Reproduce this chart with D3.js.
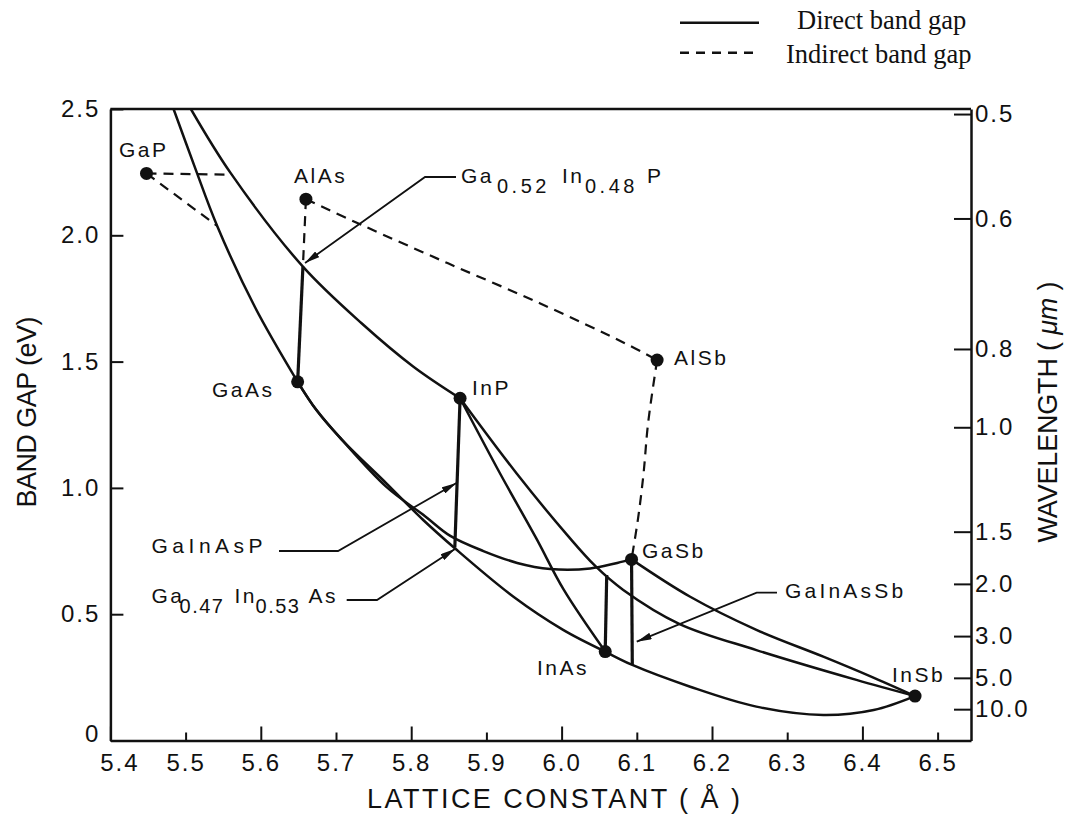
<!DOCTYPE html>
<html>
<head>
<meta charset="utf-8">
<script src="https://cdn.jsdelivr.net/npm/d3@7"></script>
<style>
  body { margin: 0; background: #fff; }
  svg { display: block; }
  .axis text { font-family: "Liberation Sans", Arial, sans-serif; font-size: 24px; letter-spacing: 2px; fill: #111; }
  .axis path.domain { stroke: #111; stroke-width: 2.5; }
  .axis .tick line { stroke: #111; stroke-width: 2; }
  .title { font-family: "Liberation Sans", Arial, sans-serif; font-size: 27px; fill: #111; }
  .label { font-family: "Liberation Sans", Arial, sans-serif; font-size: 21px; fill: #111; }
  .legend { font-family: "Liberation Serif", "Times New Roman", serif; font-size: 26.5px; fill: #111; }
  .curve { fill: none; stroke: #111; stroke-width: 2.5; }
  .quaternary { fill: none; stroke: #111; stroke-width: 3.2; }
  .indirect { fill: none; stroke: #111; stroke-width: 2.2; stroke-dasharray: 10,7; }
  .leader { fill: none; stroke: #111; stroke-width: 1.8; }
</style>
</head>
<body>
<svg id="chart" width="1071" height="814"></svg>
<script>
// tick labels
var latticeTicks = [5.4, 5.5, 5.6, 5.7, 5.8, 5.9, 6.0, 6.1, 6.2, 6.3, 6.4, 6.5];
var gapTicks = [0, 0.5, 1.0, 1.5, 2.0, 2.5];
var wavelengthTicks = [0.5, 0.6, 0.8, 1.0, 1.5, 2.0, 3.0, 5.0, 10.0];

// binary compounds: [name, lattice constant (A), band gap (eV)]
var compounds = [
  ["GaP", 5.448, 2.245], ["AlAs", 5.660, 2.143], ["AlSb", 6.127, 1.506],
  ["GaAs", 5.649, 1.420], ["InP", 5.865, 1.355], ["InAs", 6.058, 0.352],
  ["GaSb", 6.093, 0.717], ["InSb", 6.470, 0.176]
];

// direct gap ternary curves, [a, Eg]
var gaAsP = [[5.484, 2.50], [5.512, 2.272], [5.542, 2.037], [5.592, 1.717], [5.649, 1.420]];
var gaInP = [[5.507, 2.50], [5.560, 2.246], [5.656, 1.876], [5.734, 1.652], [5.803, 1.480], [5.865, 1.355]];
var inGaAs = [[5.649, 1.420], [5.674, 1.308], [5.708, 1.190], [5.767, 1.018], [5.816, 0.873],
  [5.858, 0.761], [5.936, 0.569], [6.002, 0.438], [6.058, 0.352]];
var gaAsSb = [[5.649, 1.420], [5.674, 1.308], [5.708, 1.190], [5.767, 1.004], [5.818, 0.889],
  [5.852, 0.810], [5.896, 0.750], [5.941, 0.703], [5.985, 0.679], [6.038, 0.681], [6.074, 0.703], [6.093, 0.717]];
var inAsP = [[5.865, 1.355], [5.918, 1.058], [5.966, 0.802], [6.003, 0.596], [6.058, 0.352]];
var inPSb = [[5.865, 1.355], [5.940, 1.058], [6.007, 0.815], [6.045, 0.690], [6.082, 0.596],
  [6.157, 0.461], [6.259, 0.358], [6.392, 0.240], [6.470, 0.176]];
var gaInSb = [[6.093, 0.717], [6.171, 0.569], [6.259, 0.438], [6.348, 0.332], [6.410, 0.255], [6.470, 0.176]];
var inAsSb = [[6.058, 0.352], [6.094, 0.299], [6.171, 0.213], [6.259, 0.134], [6.348, 0.101],
  [6.415, 0.121], [6.470, 0.176]];

// lattice matched lines (direct)
var alGaAsDirect = [[5.656, 1.876], [5.649, 1.420]];
var gaInAsP = [[5.865, 1.355], [5.858, 0.764]];
var gaInAsSbLeft = [[6.060, 0.655], [6.058, 0.352]];
var gaInAsSbRight = [[6.093, 0.717], [6.094, 0.299]];

// indirect gap lines
var gaPtoGaInP = [[5.448, 2.245], [5.560, 2.240]];
var gaPtoGaAsP = [[5.448, 2.245], [5.542, 2.037]];
var alGaAsIndirect = [[5.660, 2.143], [5.656, 1.876]];
var alAsSb = [[5.660, 2.143], [5.734, 2.041], [5.849, 1.889], [5.971, 1.731], [6.084, 1.573], [6.127, 1.506]];
var alGaSb = [[6.127, 1.506], [6.115, 1.256], [6.109, 1.058], [6.102, 0.886], [6.093, 0.717]];

// compound label anchors [name, a, Eg, letter spacing]
var nameLabels = [
  ["GaP", 5.4114, 2.310, 2.5], ["AlAs", 5.6441, 2.207, 2.5], ["AlSb", 6.1495, 1.4865, 2.5],
  ["GaAs", 5.5351, 1.360, 2.5], ["InP", 5.8809, 1.368, 2.5], ["InAs", 5.9673, 0.259, 2.5],
  ["GaSb", 6.1069, 0.7225, 2.5], ["InSb", 6.4394, 0.2316, 2.5],
  ["GaInAsSb", 6.2971, 0.5641, 3.2], ["GaInAsP", 5.4547, 0.7423, 4.5]
];

// pointer lines for the alloy labels
var leaders = [
  [[5.8596, 2.2308], [5.8184, 2.2308], [5.6588, 1.8903]],
  [[5.6242, 0.7502], [5.7027, 0.7502], [5.8602, 1.0194]],
  [[5.7142, 0.5562], [5.7545, 0.5562], [5.8582, 0.7581]],
  [[6.2864, 0.5851], [6.2594, 0.5851], [6.0999, 0.3911]]
];

var svg = d3.select("#chart");

var x = d3.scaleLinear().domain([5.4, 6.5444]).range([110.4, 971]);
var y = d3.scaleLinear().domain([0, 2.5]).range([740.5, 109]);

var line = d3.line()
  .x(function(d) { return x(d[0]); })
  .y(function(d) { return y(d[1]); })
  .curve(d3.curveCatmullRom.alpha(0.5));

var straight = d3.line()
  .x(function(d) { return x(d[0]); })
  .y(function(d) { return y(d[1]); });

var defs = svg.append("defs");
defs.append("clipPath").attr("id", "plot")
  .append("rect")
  .attr("x", x(5.4)).attr("y", y(2.5))
  .attr("width", x.range()[1] - x(5.4))
  .attr("height", y(0) - y(2.5));

defs.append("marker")
  .attr("id", "arrow")
  .attr("viewBox", "0 0 15 7")
  .attr("refX", 15).attr("refY", 3.5)
  .attr("markerWidth", 15).attr("markerHeight", 7)
  .attr("markerUnits", "userSpaceOnUse")
  .attr("orient", "auto")
  .append("path").attr("d", "M0,0L15,3.5L0,7Z").attr("fill", "#111");

var g = svg.append("g").attr("clip-path", "url(#plot)");

g.selectAll(".curve")
  .data([gaAsP, gaInP, inGaAs, gaAsSb, inAsP, inPSb, gaInSb, inAsSb])
  .enter().append("path")
  .attr("class", "curve")
  .attr("d", line);

g.selectAll(".quaternary")
  .data([alGaAsDirect, gaInAsP, gaInAsSbLeft, gaInAsSbRight])
  .enter().append("path")
  .attr("class", "quaternary")
  .attr("d", straight);

g.selectAll(".indirect")
  .data([gaPtoGaInP, gaPtoGaAsP, alGaAsIndirect, alAsSb, alGaSb])
  .enter().append("path")
  .attr("class", "indirect")
  .attr("d", line);

g.selectAll(".leader")
  .data(leaders)
  .enter().append("path")
  .attr("class", "leader")
  .attr("marker-end", "url(#arrow)")
  .attr("d", straight);

g.selectAll(".dot")
  .data(compounds)
  .enter().append("circle")
  .attr("class", "dot")
  .attr("cx", function(d) { return x(d[1]); })
  .attr("cy", function(d) { return y(d[2]); })
  .attr("r", 6.5)
  .attr("fill", "#111");

svg.selectAll(".name")
  .data(nameLabels)
  .enter().append("text")
  .attr("class", "label name")
  .attr("x", function(d) { return x(d[1]); })
  .attr("y", function(d) { return y(d[2]); })
  .style("letter-spacing", function(d) { return d[3] + "px"; })
  .text(function(d) { return d[0]; });

// formulas with subscripts
function formula(parts, a, eg, offsets, subSpacing) {
  var t = svg.append("text").attr("class", "label");
  parts.forEach(function(p, i) {
    t.append("tspan")
      .attr("x", x(a) + offsets[i])
      .attr("y", y(eg) + (p[1] ? 10 : 0))
      .style("font-size", p[1] ? "20px" : "21px")
      .style("letter-spacing", (p[1] ? subSpacing : 2.5) + "px")
      .text(p[0]);
  });
}
formula([["Ga", 0], ["0.52", 1], ["In", 0], ["0.48", 1], ["P", 0]], 5.8662, 2.2071, [0, 36, 101, 124, 186], 3.5);
formula([["Ga", 0], ["0.47", 1], ["In", 0], ["0.53", 1], ["As", 0]], 5.4547, 0.5443, [0, 28, 83, 104, 157], 1.5);

// axes
var gx = svg.append("g")
  .attr("class", "axis")
  .attr("transform", "translate(0," + y(0) + ")")
  .call(d3.axisBottom(x).tickValues(latticeTicks).tickSizeInner(-8).tickSizeOuter(0)
    .tickPadding(13).tickFormat(d3.format(".1f")));
gx.selectAll(".tick line").filter(function(d) { return Math.round(d * 10) % 2 === 0; }).attr("y2", -14);
gx.selectAll(".tick text").filter(function(d) { return d === 5.4; }).attr("dx", 9);

var gy = svg.append("g")
  .attr("class", "axis")
  .attr("transform", "translate(" + x(5.4) + ",0)")
  .call(d3.axisLeft(y).tickValues(gapTicks).tickSizeInner(-13).tickSizeOuter(0).tickPadding(10)
    .tickFormat(function(d) { return d === 0 ? "0" : d.toFixed(1); }));
gy.selectAll(".tick text").filter(function(d) { return d === 0; }).attr("dy", "0.05em");

svg.append("g")
  .attr("class", "axis")
  .attr("transform", "translate(" + x.range()[1] + ",0)")
  .call(d3.axisRight(y)
    .tickValues(wavelengthTicks.map(function(w) { return 1.24 / w; }))
    .tickSizeInner(-17).tickSizeOuter(0).tickPadding(4)
    .tickFormat(function(e) { return (1.24 / e).toFixed(1); }));

svg.append("path")
  .attr("d", "M" + x(5.4) + "," + y(2.5) + "H" + x.range()[1])
  .attr("stroke", "#111").attr("stroke-width", 2.5);

// axis titles
svg.append("text").attr("class", "title")
  .attr("transform", "translate(36,412) rotate(-90)")
  .attr("text-anchor", "middle")
  .attr("textLength", 191).attr("lengthAdjust", "spacing")
  .text("BAND GAP (eV)");

svg.append("text").attr("class", "title")
  .attr("x", 553.5).attr("y", 808)
  .attr("text-anchor", "middle")
  .attr("textLength", 373).attr("lengthAdjust", "spacing")
  .text("LATTICE CONSTANT ( \u00c5 )");

var wl = svg.append("text").attr("class", "title")
  .attr("transform", "translate(1057,412) rotate(-90)")
  .attr("text-anchor", "middle")
  .attr("textLength", 261).attr("lengthAdjust", "spacing");
wl.append("tspan").text("WAVELENGTH ( ");
wl.append("tspan").style("font-style", "italic").text("\u03bcm");
wl.append("tspan").text(" )");

// legend
var legend = svg.append("g");
legend.append("line").attr("x1", 680).attr("x2", 759).attr("y1", 22.7).attr("y2", 22.7)
  .attr("stroke", "#111").attr("stroke-width", 2.5);
legend.append("line").attr("x1", 680).attr("x2", 759).attr("y1", 52.7).attr("y2", 52.7)
  .attr("stroke", "#111").attr("stroke-width", 2.5).attr("stroke-dasharray", "9,7");
legend.append("text").attr("class", "legend").attr("x", 797).attr("y", 29).text("Direct band gap");
legend.append("text").attr("class", "legend").attr("x", 786).attr("y", 63).text("Indirect band gap");
</script>
</body>
</html>
